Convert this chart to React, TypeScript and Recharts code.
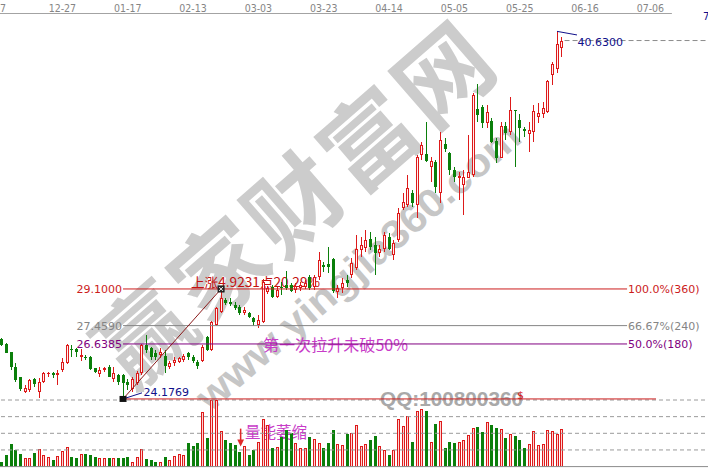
import React from "react";
import { ComposedChart, Bar, XAxis, YAxis, ReferenceLine, ReferenceDot } from "recharts";

// daily k-line, one entry per trading day (index = day number)
const opens = [
  26.86, 26.64, 26.27, 25.62, 25.16, 24.5, 24.58, 25.06, 24.5, 24.95,
  25.3, 25.33, 25.25, 25.47, 25.77, 26.41, 26.4, 26.04, 26.06, 26.07,
  25.55, 25.3, 25.47, 25.62, 25.06, 25.25, 25.25, 24.95, 24.61, 24.88,
  25.33, 26.59, 26.45, 26.22, 26.15, 26.1, 25.62, 25.77, 25.85, 25.92,
  26.22, 26.04, 25.85, 25.89, 26.94, 26.37, 27.49, 28.08, 28.61, 28.53,
  28.38, 28.28, 28.04, 28.04, 27.79, 27.49, 27.64, 28.97, 29.2, 28.76,
  29.17, 29.28, 29.28, 29.06, 29.13, 29.2, 29.65, 29.2, 29.65, 30.17,
  30.22, 30.43, 28.98, 29.13, 29.5, 29.73, 30.03, 30.85, 30.92, 31.33,
  31.07, 30.7, 30.88, 31.44, 30.62, 31.29, 32.71, 32.86, 33.38, 32.86,
  35.1, 35.14, 34.55, 34.8, 33.38, 35.58, 35.17, 34.43, 34.06, 33.76,
  34.08, 34.2, 37.16, 37.26, 36.52, 36.62, 35.72, 34.95, 36.41, 36.11,
  37.11, 36.66, 36.24, 36.02, 36.14, 36.81, 36.92, 37.01, 38.68, 38.95,
  39.87,
];
const closes = [
  26.59, 26.25, 25.62, 25.03, 24.62, 24.66, 25.03, 24.85, 24.95, 25.35,
  25.34, 25.24, 25.33, 25.85, 26.59, 26.37, 26.29, 26.15, 26.01, 25.51,
  25.4, 25.47, 25.55, 25.17, 25.33, 24.95, 24.88, 24.8, 25.06, 25.35,
  26.57, 26.37, 26.06, 26.07, 26.29, 25.65, 25.77, 25.92, 26.0, 26.1,
  26.04, 25.89, 25.65, 26.52, 26.37, 27.64, 28.24, 28.68, 28.46, 28.43,
  28.24, 28.01, 28.16, 27.86, 27.64, 27.69, 29.41, 29.14, 28.76, 29.06,
  29.13, 29.13, 29.02, 29.23, 29.28, 29.36, 29.13, 29.65, 30.4, 30.09,
  30.1, 29.01, 29.13, 29.36, 29.36, 30.25, 30.88, 31.07, 31.29, 30.99,
  30.7, 30.88, 31.52, 30.88, 31.15, 32.52, 32.98, 33.61, 32.94, 35.02,
  35.55, 34.84, 34.84, 33.68, 35.77, 35.35, 34.43, 34.1, 34.16, 34.11,
  34.35, 37.78, 36.89, 36.52, 37.01, 35.69, 34.95, 36.41, 36.07, 37.11,
  37.07, 36.29, 36.19, 36.22, 37.07, 36.96, 37.19, 38.41, 39.16, 40.07,
  40.22,
];
const highs = [
  26.91, 26.7, 26.29, 25.79, 25.17, 24.8, 25.07, 25.12, 25.12, 25.4,
  25.4, 25.4, 25.47, 26.0, 26.64, 26.59, 26.45, 26.4, 26.15, 26.1,
  25.56, 25.62, 25.62, 25.7, 25.62, 25.3, 25.3, 25.07, 25.16, 25.44,
  26.64, 27.04, 26.52, 26.37, 26.46, 26.37, 25.89, 26.04, 26.07, 26.19,
  26.29, 26.15, 25.92, 26.59, 27.0, 27.68, 28.31, 29.1, 28.71, 28.68,
  28.53, 28.38, 28.28, 28.08, 27.86, 27.94, 29.55, 29.23, 29.28, 29.2,
  29.43, 29.92, 29.36, 29.36, 29.43, 29.5, 29.73, 29.73, 30.77, 30.32,
  30.99, 30.47, 29.28, 29.58, 29.73, 30.47, 31.52, 31.44, 31.74, 31.67,
  31.44, 31.07, 31.67, 31.59, 31.29, 32.71, 33.38, 34.2, 33.53, 35.1,
  35.69, 36.59, 35.02, 34.87, 36.14, 35.85, 35.25, 34.57, 34.35, 34.43,
  35.99, 37.86, 38.26, 37.34, 37.34, 36.74, 35.85, 36.59, 36.59, 37.71,
  37.11, 36.92, 36.37, 36.59, 37.34, 37.41, 37.48, 38.46, 39.27, 40.63,
  40.39,
];
const lows = [
  26.55, 26.22, 25.47, 24.95, 24.55, 24.43, 24.5, 24.73, 24.21, 24.88,
  25.17, 25.1, 24.8, 25.4, 25.74, 26.07, 26.07, 25.89, 25.92, 25.47,
  25.35, 25.17, 25.4, 25.15, 24.95, 24.8, 24.1769, 24.58, 24.5, 24.8,
  25.26, 26.24, 25.92, 25.92, 26.0, 25.33, 25.51, 25.65, 25.77, 25.85,
  25.92, 25.77, 25.51, 25.85, 26.34, 26.34, 27.44, 28.01, 28.38, 28.34,
  28.16, 27.94, 27.94, 27.79, 27.44, 27.35, 27.56, 28.88, 28.68, 28.68,
  28.83, 29.06, 28.97, 28.92, 29.01, 29.1, 29.06, 29.06, 29.5, 29.87,
  29.83, 28.94, 28.68, 28.91, 29.2, 29.58, 29.95, 30.55, 30.77, 30.85,
  29.73, 30.55, 30.77, 30.85, 30.4, 31.22, 32.64, 32.78, 32.78, 32.27,
  34.87, 34.8, 33.9, 33.38, 32.94, 35.25, 34.2, 33.9, 33.08, 32.41,
  34.06, 34.13, 36.59, 36.29, 36.29, 35.62, 34.73, 34.95, 35.77, 35.99,
  34.57, 35.69, 35.92, 35.25, 35.69, 36.52, 36.74, 36.96, 38.23, 38.75,
  39.5,
];
// volume, in % of the pane's full height
const volumes = [
  7.5, 17.5, 33.5, 25, 19, 12.5, 12.5, 20, 26, 17.5,
  14, 10, 16, 23.5, 29, 15, 13.5, 18.5, 19, 17.5,
  15, 12.5, 13.5, 13.5, 12.5, 12.5, 13.5, 14, 7.5, 15,
  26, 11, 10, 6.5, 7.5, 15, 10, 16, 18.5, 17.5,
  36, 31, 35, 82, 42.5, 100, 100, 53.5, 40, 35,
  32.5, 22.5, 31, 17.5, 25, 37.5, 71, 62.5, 27.5, 30,
  45, 55, 51, 35, 28.5, 27.5, 45, 41, 35, 27.5,
  35, 55, 34, 32.5, 49, 50, 62.5, 31, 34, 40,
  46, 31, 25, 17.5, 25, 71, 61, 76, 37.5, 83.5,
  86, 83.5, 37.5, 64, 69, 27.5, 37.5, 36, 37.5, 40,
  47.5, 57.5, 60, 52.5, 67.5, 62.5, 58.5, 56, 42.5, 48.5,
  46, 40, 28.5, 33.5, 53.5, 32.5, 34, 55, 53.5, 49, 56.5,
];

// top date axis
const tickDays = [-2, 13, 27, 41, 55, 69, 83, 97, 111, 125, 139];
const tickLabels = ["12-07", "12-27", "01-17", "02-13", "03-03", "03-23", "04-14", "05-05", "05-25", "06-16", "07-06"];

// golden section drawn from the low (day 26) to the first high (day 47)
const swingDays = [26, 47];
const fibPrices = [29.1, 27.459, 26.6385, 24.1769];
const fibPriceLabels = ["29.1000", "27.4590", "26.6385", ""];
const fibPctLabels = ["100.0%(360)", "66.67%(240)", "50.0%(180)", ""];
const fibColors = ["#cc1c1c", "#858585", "#800080", "#cc1c1c"];
const fibEnd = [134, 134, 134, 140.2];

const lowLabel = "24.1769";
const highLabel = "40.6300";
const volGrid = [25, 50, 75, 100];

const candles = opens.map((o, i) => ({
  i,
  open: o,
  close: closes[i],
  high: highs[i],
  low: lows[i],
  vol: volumes[i],
}));

const X_DOMAIN: [number, number] = [-4.65, 151.34];
const PRICE_DOMAIN: [number, number] = [24.0, 41.43];
const RED = "#dd1a1a";
const RED_FILL = "#fff0f0";
const VOL_FILL = "#ffd4d4";
const GREEN = "#0b7f0b";
const NAVY = "#10108a";
const NUM_FONT = "'DejaVu Sans', Verdana, sans-serif";
const CJK_FONT = "'Noto Sans CJK SC', sans-serif";

function Candle(props: any) {
  const { x, y, width, height, payload } = props;
  if (!payload || !Number.isFinite(y)) return <g />;
  const { open, close, high, low } = payload;
  const up = close >= open;
  const col = up ? RED : GREEN;
  const k = high > low ? height / (high - low) : 0;
  const c = Math.round(x + width / 2);
  const yh = Math.round(y);
  const yl = Math.round(y + height);
  const t = Math.round(y + (high - Math.max(open, close)) * k);
  const b = Math.round(y + (high - Math.min(open, close)) * k);
  const wx = c + 0.5;
  if (b - t < 2) {
    return (
      <g>
        <line x1={wx} x2={wx} y1={yh} y2={yl} stroke={col} />
        <line x1={c - 1} x2={c + 2} y1={t + 0.5} y2={t + 0.5} stroke={col} />
      </g>
    );
  }
  return (
    <g>
      {t > yh && <line x1={wx} x2={wx} y1={yh} y2={t} stroke={col} />}
      {yl > b && <line x1={wx} x2={wx} y1={b} y2={yl} stroke={col} />}
      <rect x={c - 0.5} y={t + 0.5} width={2} height={b - t - 1} fill={up ? RED_FILL : GREEN} stroke={col} />
    </g>
  );
}

function VolBar(props: any) {
  const { x, y, width, height, payload } = props;
  if (!payload || !(height > 0)) return <g />;
  const up = payload.close >= payload.open;
  const c = Math.round(x + width / 2);
  const t = Math.round(y);
  const b = Math.round(y + height);
  return (
    <rect x={c - 0.5} y={t + 0.5} width={2} height={Math.max(0, b - t - 1)}
      fill={up ? VOL_FILL : GREEN} stroke={up ? RED : GREEN} />
  );
}

function Backdrop() {
  return (
    <svg width={708} height={469} style={{ position: "absolute", left: 0, top: 0 }}>
      <text transform="translate(290 200) rotate(-41)" textAnchor="middle" dominantBaseline="central"
        fontSize={94} fontWeight={700} fill="#cccccc" fontFamily={CJK_FONT}
        textLength={490} lengthAdjust="spacing">赢家财富网</text>
      <text transform="translate(358 266) rotate(-41)" textAnchor="middle" dominantBaseline="central"
        fontSize={40} fontWeight={700} fill="#c6c6c6" fontFamily="'Liberation Sans', Arial, sans-serif"
        textLength={415} lengthAdjust="spacingAndGlyphs">www.yingjia360.com</text>
      <text x={380} y={406} fontSize={21} fontWeight={700} fill="#a9a9a9"
        fontFamily="'Liberation Sans', Arial, sans-serif" textLength={143} lengthAdjust="spacingAndGlyphs">QQ:100800360</text>
      <text x={191} y={287} fontSize={13} fill="#c41010" fontFamily={CJK_FONT}
        textLength={129} lengthAdjust="spacingAndGlyphs">上涨4.9231点20.29%</text>
      <text x={263} y={351} fontSize={16} fill="#c83cc8" fontFamily={CJK_FONT}
        textLength={145} lengthAdjust="spacingAndGlyphs">第一次拉升未破50%</text>
      <text x={245} y={438} fontSize={15.5} fill="#c83cc8" fontFamily={CJK_FONT}
        textLength={62} lengthAdjust="spacingAndGlyphs">量能萎缩</text>
      <text x={517} y={399} fontSize={11} fill={RED} fontFamily={NUM_FONT}>$</text>
      <text x={703} y={20} fontSize={10} fill={NAVY} fontFamily={NUM_FONT}>7</text>
    </svg>
  );
}

const Arrow = (p: any) => (
  <g fill="#e02828">
    <rect x={p.cx - 0.75} y={p.cy - 18} width={1.5} height={11.5} />
    <polygon points={`${p.cx - 3.4},${p.cy - 7} ${p.cx + 3.4},${p.cy - 7} ${p.cx},${p.cy}`} />
  </g>
);

export default function App() {
  return (
    <div style={{ position: "absolute", left: 0, top: 0, width: 708, height: 469, overflow: "hidden", background: "#fff" }}>
      <Backdrop />
      <div style={{ position: "absolute", left: -20, top: 0 }}>
        <ComposedChart width={728} height={469} data={candles} margin={{ top: 400, right: 0, bottom: 2.4, left: 0 }}>
          <XAxis type="number" dataKey="i" domain={X_DOMAIN} allowDataOverflow hide />
          <YAxis type="number" domain={[0, 100]} allowDataOverflow hide />
          {volGrid.map((v) => (
            <ReferenceLine key={v} y={v} stroke="#9a9a9a" strokeDasharray="4 3" ifOverflow="visible" />
          ))}
          <ReferenceLine y={0} stroke="#8c8c8c" ifOverflow="visible" />
          <Bar dataKey="vol" barSize={4} shape={VolBar} isAnimationActive={false} />
          <ReferenceDot x={51.2} y={30} ifOverflow="visible" shape={Arrow} />
        </ComposedChart>
      </div>
      <div style={{ position: "absolute", left: -20, top: 0 }}>
        <ComposedChart width={728} height={469} data={candles} margin={{ top: 0, right: 0, bottom: 66.1, left: 0 }}>
          <XAxis type="number" dataKey="i" orientation="top" height={13.5} domain={X_DOMAIN} allowDataOverflow
            ticks={tickDays} interval={0} tickFormatter={(v: number) => tickLabels[tickDays.indexOf(v)] ?? ""}
            axisLine={false} tickLine={false} tickSize={0} tickMargin={2}
            tick={{ fontSize: 10.5, fill: "#858585", fontFamily: "'Liberation Sans Narrow', 'DejaVu Sans Condensed', 'Liberation Sans', sans-serif" }} />
          <YAxis type="number" domain={PRICE_DOMAIN} allowDataOverflow hide />
          <ReferenceLine segment={[{ x: X_DOMAIN[0], y: PRICE_DOMAIN[1] }, { x: 143.6, y: PRICE_DOMAIN[1] }]}
            stroke="#a3a3a3" ifOverflow="visible" />
          {fibPrices.map((p, k) => (
            <ReferenceLine key={"f" + k} segment={[{ x: swingDays[0], y: p }, { x: fibEnd[k], y: p }]}
              stroke={fibColors[k]} ifOverflow="visible" />
          ))}
          <ReferenceLine segment={[{ x: swingDays[0], y: fibPrices[3] }, { x: swingDays[1], y: fibPrices[0] }]}
            stroke="#8b1c1c" ifOverflow="visible" />
          <ReferenceLine segment={[{ x: 120.6, y: closes[closes.length - 1] }, { x: X_DOMAIN[1], y: closes[closes.length - 1] }]}
            stroke="#8c8c8c" strokeDasharray="5 3" ifOverflow="visible" />
          <Bar dataKey={(d: any) => [d.low, d.high]} barSize={4} shape={Candle} isAnimationActive={false} />
          {fibPrices.map((p, k) =>
            fibPriceLabels[k] ? (
              <ReferenceDot key={"l" + k} x={swingDays[0]} y={p} ifOverflow="visible"
                shape={(s: any) => (
                  <text x={s.cx - 1} y={s.cy + 4.3} textAnchor="end" fontSize={11} fill={fibColors[k]} fontFamily={NUM_FONT}>
                    {fibPriceLabels[k]}
                  </text>
                )} />
            ) : null
          )}
          {fibPrices.map((p, k) =>
            fibPctLabels[k] ? (
              <ReferenceDot key={"r" + k} x={fibEnd[k]} y={p} ifOverflow="visible"
                shape={(s: any) => (
                  <text x={s.cx + 1} y={s.cy + 4.3} fontSize={11} fill={fibColors[k]} fontFamily={NUM_FONT}>
                    {fibPctLabels[k]}
                  </text>
                )} />
            ) : null
          )}
          <ReferenceLine segment={[{ x: swingDays[0], y: lows[swingDays[0]] }, { x: 30.06, y: 24.45 }]} stroke={NAVY} ifOverflow="visible" />
          <ReferenceDot x={30.06} y={24.45} ifOverflow="visible"
            shape={(s: any) => (
              <text x={s.cx + 1.5} y={s.cy + 3.5} fontSize={11} fill={NAVY} fontFamily={NUM_FONT}>{lowLabel}</text>
            )} />
          <ReferenceLine segment={[{ x: 119, y: highs[119] }, { x: 123.27, y: 40.47 }]} stroke={NAVY} ifOverflow="visible" />
          <ReferenceDot x={123.27} y={40.47} ifOverflow="visible"
            shape={(s: any) => (
              <text x={s.cx + 0.5} y={s.cy + 11} fontSize={11} fill={NAVY} fontFamily={NUM_FONT}>{highLabel}</text>
            )} />
          <ReferenceDot x={swingDays[0]} y={lows[swingDays[0]]} ifOverflow="visible"
            shape={(s: any) => <rect x={s.cx - 3.5} y={s.cy - 3} width={7} height={6} fill="#111" />} />
          <ReferenceDot x={swingDays[1]} y={highs[swingDays[1]]} ifOverflow="visible"
            shape={(s: any) => (
              <g>
                <rect x={s.cx - 3} y={s.cy - 3} width={6} height={6} fill="#333" stroke="#111" />
                <path d={`M${s.cx - 2} ${s.cy - 2}L${s.cx + 2} ${s.cy + 2}M${s.cx + 2} ${s.cy - 2}L${s.cx - 2} ${s.cy + 2}`} stroke="#ddd" />
              </g>
            )} />
        </ComposedChart>
      </div>
    </div>
  );
}
